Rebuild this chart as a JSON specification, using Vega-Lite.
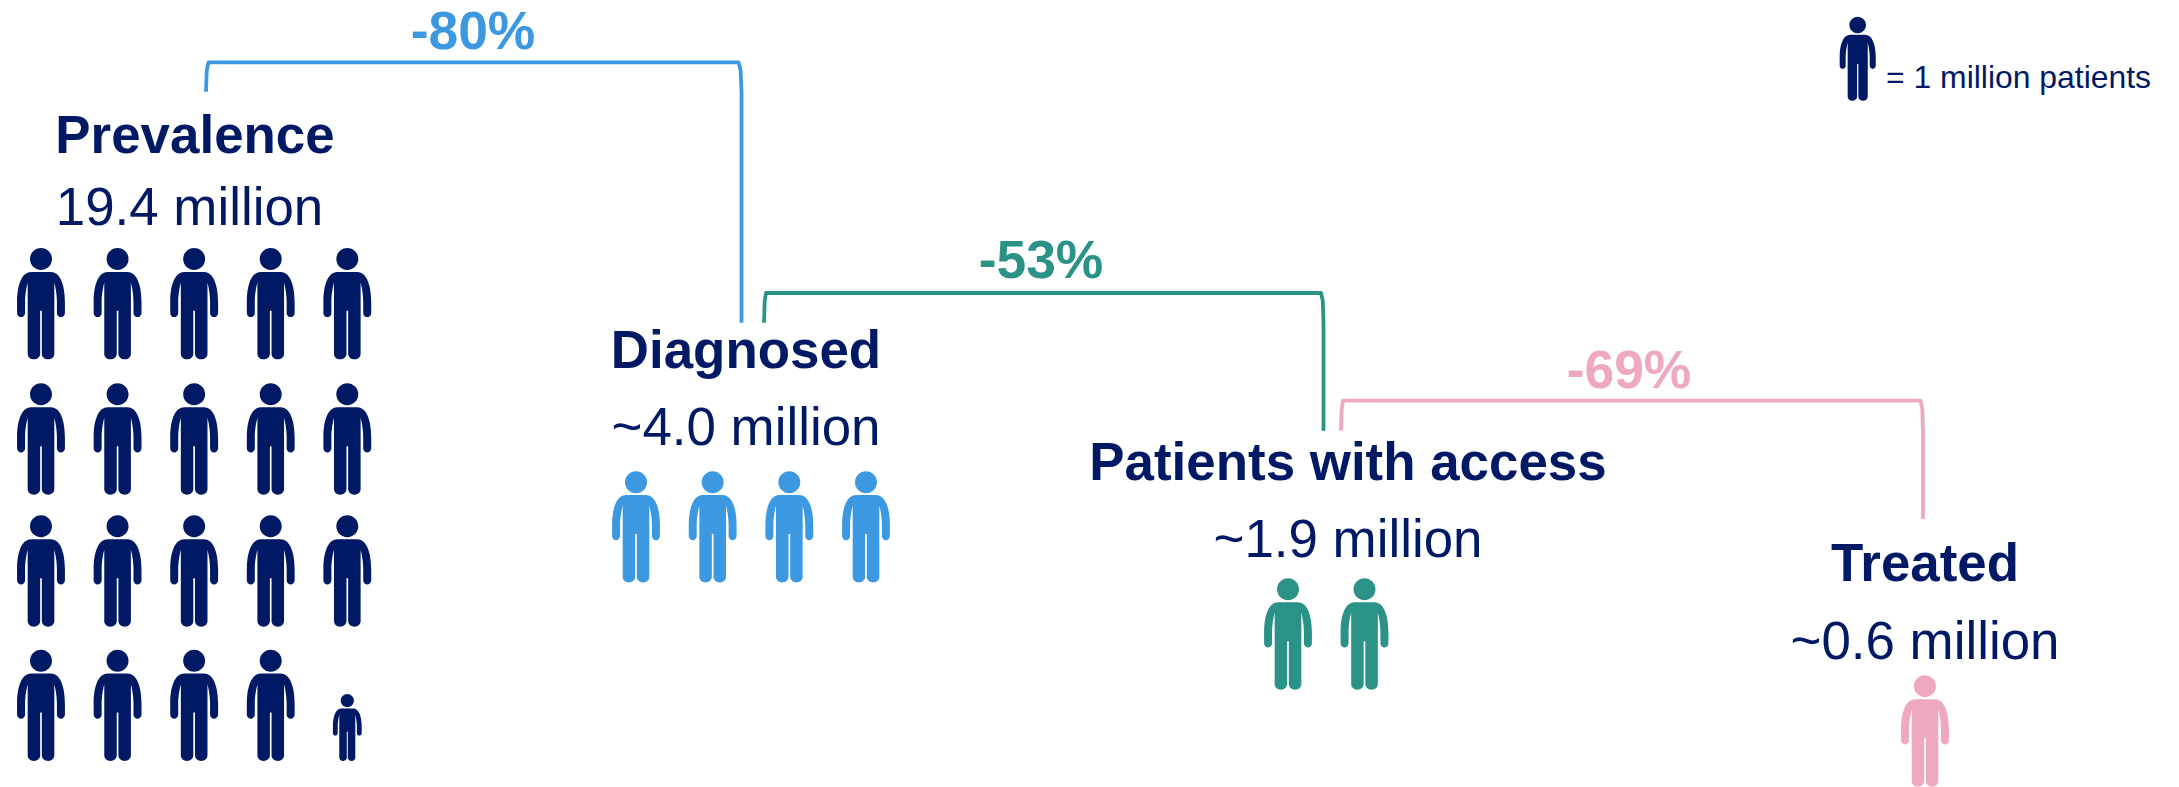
{
  "$schema": "https://vega.github.io/schema/vega-lite/v6.json",
  "width": 2179,
  "height": 787,
  "padding": 0,
  "autosize": {"type": "fit", "contains": "padding"},
  "background": "white",
  "config": {
    "view": {"stroke": null},
    "point": {
      "filled": true,
      "opacity": 1,
      "strokeWidth": 0,
      "shape": "M0 -2.006 C0.1094 -2.006 0.198 -1.917 0.198 -1.808 C0.198 -1.699 0.1094 -1.61 0 -1.61 C-0.1094 -1.61 -0.198 -1.699 -0.198 -1.808 C-0.198 -1.917 -0.1094 -2.006 0 -2.006 Z M-0.18 -1.575 L0.18 -1.575 C0.33 -1.575 0.431 -1.38 0.431 -1.03 L0.431 -0.832 C0.431 -0.79 0.395 -0.76 0.359 -0.76 C0.323 -0.76 0.287 -0.79 0.287 -0.832 L0.287 -1.03 C0.287 -1.17 0.262 -1.3 0.24 -1.385 L0.24 -0.102 C0.24 -0.042 0.192 0 0.129 0 C0.066 0 0.015 -0.042 0.015 -0.102 L0.015 -0.874 L-0.015 -0.874 L-0.015 -0.102 C-0.015 -0.042 -0.066 0 -0.129 0 C-0.192 0 -0.24 -0.042 -0.24 -0.102 L-0.24 -1.385 C-0.262 -1.3 -0.287 -1.17 -0.287 -1.03 L-0.287 -0.832 C-0.287 -0.79 -0.323 -0.76 -0.359 -0.76 C-0.395 -0.76 -0.431 -0.79 -0.431 -0.832 L-0.431 -1.03 C-0.431 -1.38 -0.33 -1.575 -0.18 -1.575 Z"
    }
  },
  "datasets": {
    "stages": [
      {"stage": "Prevalence", "order": 0, "detail": "19.4 million"},
      {"stage": "Diagnosed", "order": 1, "detail": "~4.0 million"},
      {"stage": "Patients with access", "order": 2, "detail": "~1.9 million"},
      {"stage": "Treated", "order": 3, "detail": "~0.6 million"}
    ],
    "drops": [
      {"label": "-80%", "to": "Diagnosed", "step": 0},
      {"label": "-53%", "to": "Patients with access", "step": 1},
      {"label": "-69%", "to": "Treated", "step": 2}
    ],
    "brackets": [
      {"to": "Diagnosed", "seq": 0, "edge": 0, "level": 1},
      {"to": "Diagnosed", "seq": 1, "edge": 0.5, "level": 0.5},
      {"to": "Diagnosed", "seq": 2, "edge": 1, "level": 0},
      {"to": "Diagnosed", "seq": 3, "edge": 2, "level": 0},
      {"to": "Diagnosed", "seq": 4, "edge": 2.5, "level": 0.5},
      {"to": "Diagnosed", "seq": 5, "edge": 3, "level": 1},
      {"to": "Diagnosed", "seq": 6, "edge": 3, "level": 3},
      {"to": "Patients with access", "seq": 0, "edge": 4, "level": 3},
      {"to": "Patients with access", "seq": 1, "edge": 4.5, "level": 2.5},
      {"to": "Patients with access", "seq": 2, "edge": 5, "level": 2},
      {"to": "Patients with access", "seq": 3, "edge": 6, "level": 2},
      {"to": "Patients with access", "seq": 4, "edge": 6.5, "level": 2.5},
      {"to": "Patients with access", "seq": 5, "edge": 7, "level": 3},
      {"to": "Patients with access", "seq": 6, "edge": 7, "level": 5},
      {"to": "Treated", "seq": 0, "edge": 8, "level": 5},
      {"to": "Treated", "seq": 1, "edge": 8.5, "level": 4.5},
      {"to": "Treated", "seq": 2, "edge": 9, "level": 4},
      {"to": "Treated", "seq": 3, "edge": 10, "level": 4},
      {"to": "Treated", "seq": 4, "edge": 10.5, "level": 4.5},
      {"to": "Treated", "seq": 5, "edge": 11, "level": 5},
      {"to": "Treated", "seq": 6, "edge": 11, "level": 6}
    ],
    "prevalence": [
      {"stage": "Prevalence", "column": 0, "row": 0, "share": 1},
      {"stage": "Prevalence", "column": 1, "row": 0, "share": 1},
      {"stage": "Prevalence", "column": 2, "row": 0, "share": 1},
      {"stage": "Prevalence", "column": 3, "row": 0, "share": 1},
      {"stage": "Prevalence", "column": 4, "row": 0, "share": 1},
      {"stage": "Prevalence", "column": 0, "row": 1, "share": 1},
      {"stage": "Prevalence", "column": 1, "row": 1, "share": 1},
      {"stage": "Prevalence", "column": 2, "row": 1, "share": 1},
      {"stage": "Prevalence", "column": 3, "row": 1, "share": 1},
      {"stage": "Prevalence", "column": 4, "row": 1, "share": 1},
      {"stage": "Prevalence", "column": 0, "row": 2, "share": 1},
      {"stage": "Prevalence", "column": 1, "row": 2, "share": 1},
      {"stage": "Prevalence", "column": 2, "row": 2, "share": 1},
      {"stage": "Prevalence", "column": 3, "row": 2, "share": 1},
      {"stage": "Prevalence", "column": 4, "row": 2, "share": 1},
      {"stage": "Prevalence", "column": 0, "row": 3, "share": 1},
      {"stage": "Prevalence", "column": 1, "row": 3, "share": 1},
      {"stage": "Prevalence", "column": 2, "row": 3, "share": 1},
      {"stage": "Prevalence", "column": 3, "row": 3, "share": 1},
      {"stage": "Prevalence", "column": 4, "row": 3, "share": 0.4}
    ],
    "diagnosed": [
      {"stage": "Diagnosed", "column": 0},
      {"stage": "Diagnosed", "column": 1},
      {"stage": "Diagnosed", "column": 2},
      {"stage": "Diagnosed", "column": 3}
    ],
    "access": [
      {"stage": "Patients with access", "column": 0},
      {"stage": "Patients with access", "column": 1}
    ],
    "treated": [
      {"stage": "Treated", "column": 0}
    ],
    "key": [
      {"units": 1, "label": "= 1 million patients"}
    ]
  },
  "resolve": {"scale": {"x": "independent", "y": "independent"}},
  "layer": [
    {
      "data": {"name": "brackets"},
      "mark": {"type": "line", "strokeWidth": 3.8, "strokeJoin": "round", "strokeCap": "butt"},
      "encoding": {
        "x": {"field": "edge", "type": "quantitative", "axis": null,
              "scale": {"domain": [0, 0.5, 1, 2, 2.5, 3, 4, 4.5, 5, 6, 6.5, 7, 8, 8.5, 9, 10, 10.5, 11],
                        "range": [206, 206.7, 208.5, 738.5, 740.6, 741.5, 764, 764.7, 766, 1321, 1322.8, 1323.5, 1341, 1341.7, 1343, 1920.5, 1922.3, 1923]}},
        "y": {"field": "level", "type": "quantitative", "axis": null,
              "scale": {"domain": [0, 0.5, 1, 2, 2.5, 3, 4, 4.5, 5, 6],
                        "range": [62.3, 70.3, 91.7, 293, 301, 322.7, 400.7, 408.7, 430.7, 519]}},
        "order": {"field": "seq"},
        "detail": {"field": "to"},
        "color": {"field": "to", "type": "nominal", "legend": null,
                  "scale": {"domain": ["Prevalence", "Diagnosed", "Patients with access", "Treated"],
                            "range": ["#001965", "#3C99E1", "#2B9287", "#EFA8C1"]}}
      }
    },
    {
      "data": {"name": "drops"},
      "mark": {"type": "text", "font": "Liberation Sans", "fontSize": 53.4, "fontWeight": "bold", "align": "center", "baseline": "alphabetic"},
      "encoding": {
        "x": {"field": "step", "type": "quantitative", "axis": null,
              "scale": {"domain": [0, 1, 2], "range": [473, 1041, 1629]}},
        "y": {"field": "step", "type": "quantitative", "axis": null,
              "scale": {"domain": [0, 1, 2], "range": [49, 278, 388]}},
        "text": {"field": "label"},
        "color": {"field": "to", "type": "nominal", "legend": null}
      }
    },
    {
      "data": {"name": "stages"},
      "mark": {"type": "text", "font": "Liberation Sans", "fontSize": 52.9, "fontWeight": "bold", "align": "center", "baseline": "alphabetic", "color": "#001965"},
      "encoding": {
        "x": {"field": "order", "type": "quantitative", "axis": null,
              "scale": {"domain": [0, 1, 2, 3], "range": [195, 746, 1348, 1925]}},
        "y": {"field": "order", "type": "quantitative", "axis": null,
              "scale": {"domain": [0, 1, 2, 3], "range": [152.7, 367.5, 480, 581]}},
        "text": {"field": "stage"}
      }
    },
    {
      "data": {"name": "stages"},
      "mark": {"type": "text", "font": "Liberation Sans", "fontSize": 52.9, "align": "center", "baseline": "alphabetic", "color": "#001965"},
      "encoding": {
        "x": {"field": "order", "type": "quantitative", "axis": null,
              "scale": {"domain": [0, 1, 2, 3], "range": [189.5, 746, 1348, 1925]}},
        "y": {"field": "order", "type": "quantitative", "axis": null,
              "scale": {"domain": [0, 1, 2, 3], "range": [225, 445, 557, 659]}},
        "text": {"field": "detail"}
      }
    },
    {
      "data": {"name": "prevalence"},
      "mark": {"type": "point"},
      "encoding": {
        "x": {"field": "column", "type": "quantitative", "axis": null,
              "scale": {"domain": [0, 4], "range": [41, 347.3]}},
        "y": {"field": "row", "type": "quantitative", "axis": null,
              "scale": {"domain": [0, 1, 2, 3], "range": [359.3, 494.7, 626.7, 761]}},
        "size": {"field": "share", "type": "quantitative", "legend": null,
                 "scale": {"domain": [0.4, 1], "range": [4462, 12320]}},
        "color": {"field": "stage", "type": "nominal", "legend": null}
      }
    },
    {
      "data": {"name": "diagnosed"},
      "mark": {"type": "point", "size": 12320},
      "encoding": {
        "x": {"field": "column", "type": "quantitative", "axis": null,
              "scale": {"domain": [0, 3], "range": [636, 866]}},
        "y": {"field": "stage", "type": "nominal", "axis": null,
              "scale": {"type": "point", "domain": ["Diagnosed"], "range": [582.5, 582.5]}},
        "color": {"field": "stage", "type": "nominal", "legend": null}
      }
    },
    {
      "data": {"name": "access"},
      "mark": {"type": "point", "size": 12320},
      "encoding": {
        "x": {"field": "column", "type": "quantitative", "axis": null,
              "scale": {"domain": [0, 1], "range": [1288, 1364.5]}},
        "y": {"field": "stage", "type": "nominal", "axis": null,
              "scale": {"type": "point", "domain": ["Patients with access"], "range": [689.7, 689.7]}},
        "color": {"field": "stage", "type": "nominal", "legend": null}
      }
    },
    {
      "data": {"name": "treated"},
      "mark": {"type": "point", "size": 12320},
      "encoding": {
        "x": {"field": "column", "type": "quantitative", "axis": null,
              "scale": {"domain": [0, 1], "range": [1925, 2001]}},
        "y": {"field": "stage", "type": "nominal", "axis": null,
              "scale": {"type": "point", "domain": ["Treated"], "range": [786.7, 786.7]}},
        "color": {"field": "stage", "type": "nominal", "legend": null}
      }
    },
    {
      "data": {"name": "key"},
      "mark": {"type": "point", "size": 7012, "color": "#001965"},
      "encoding": {
        "x": {"field": "units", "type": "quantitative", "axis": null,
              "scale": {"domain": [0, 1], "range": [0, 1857.7]}},
        "y": {"field": "units", "type": "quantitative", "axis": null,
              "scale": {"domain": [0, 1], "range": [0, 100.7]}}
      }
    },
    {
      "data": {"name": "key"},
      "mark": {"type": "text", "font": "Liberation Sans", "fontSize": 31.9, "align": "left", "baseline": "alphabetic", "color": "#001965"},
      "encoding": {
        "x": {"field": "units", "type": "quantitative", "axis": null,
              "scale": {"domain": [0, 1], "range": [0, 1886]}},
        "y": {"field": "units", "type": "quantitative", "axis": null,
              "scale": {"domain": [0, 1], "range": [0, 88.3]}},
        "text": {"field": "label"}
      }
    }
  ]
}
